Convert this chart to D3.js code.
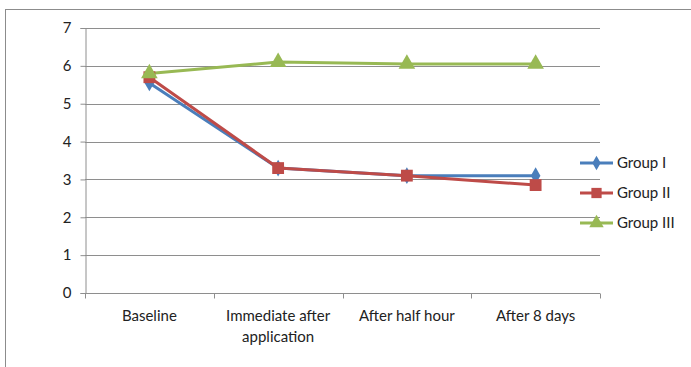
<!DOCTYPE html>
<html>
<head>
<meta charset="utf-8">
<script src="https://cdn.jsdelivr.net/npm/d3@7"></script>
<style>
  html, body { margin: 0; padding: 0; background: #fff; }
  svg { display: block; }
  text { font-family: Lato, "Open Sans", sans-serif; fill: #222; }
</style>
</head>
<body>
<svg id="chart" width="691" height="367"></svg>
<script>
// Time points and per-group scores
const categories = [["Baseline"], ["Immediate after", "application"], ["After half hour"], ["After 8 days"]];
const groupI   = [5.55, 3.3, 3.1, 3.1];
const groupII  = [5.7, 3.3, 3.1, 2.85];
const groupIII = [5.8, 6.1, 6.05, 6.05];
const seriesNames = ["Group I", "Group II", "Group III"];
const yTicks = [0, 1, 2, 3, 4, 5, 6, 7];

const series = [
  { name: seriesNames[0], values: groupI,   color: "#4a7ebb", shape: d3.symbolDiamond,  size: 80 },
  { name: seriesNames[1], values: groupII,  color: "#be4b48", shape: d3.symbolSquare,   size: 140 },
  { name: seriesNames[2], values: groupIII, color: "#98b954", shape: d3.symbolTriangle, size: 120 }
];

const svg = d3.select("#chart");
const plotLeft = 85, plotRight = 600, plotTop = 28, plotBottom = 293;
const fontStack = "Lato, 'Open Sans', sans-serif";

// Chart frame
svg.append("rect")
  .attr("x", 5.5).attr("y", 9.5).attr("width", 700).attr("height", 400)
  .attr("fill", "none").attr("stroke", "#8c8c8c").attr("stroke-width", 1);

const x = d3.scaleBand().domain(d3.range(categories.length)).range([plotLeft, plotRight]).padding(0);
const y = d3.scaleLinear().domain([0, 7]).range([plotBottom, plotTop]);

// Horizontal gridlines
svg.append("g").selectAll("line").data(yTicks.filter(t => t > 0)).join("line")
  .attr("x1", plotLeft).attr("x2", plotRight)
  .attr("y1", d => Math.round(y(d)) + 0.5).attr("y2", d => Math.round(y(d)) + 0.5)
  .attr("stroke", "#8e8e8e").attr("stroke-width", 1);

// Y axis
const yAxis = svg.append("g").attr("transform", `translate(${plotLeft + 0.5},0)`)
  .call(d3.axisLeft(y).tickValues(yTicks).tickSize(5).tickPadding(9).tickFormat(d3.format("d")));
yAxis.select(".domain").attr("stroke", "#8e8e8e");
yAxis.selectAll(".tick line").attr("stroke", "#8e8e8e");
yAxis.selectAll(".tick text").attr("font-size", 15).attr("fill", "#222")
  .style("font-family", fontStack);

// X axis with ticks between categories
const xAxisG = svg.append("g").attr("transform", `translate(0,${Math.round(y(0)) + 0.5})`);
xAxisG.append("line").attr("x1", plotLeft).attr("x2", plotRight).attr("stroke", "#8e8e8e");
const boundaries = d3.range(categories.length + 1).map(i => i < categories.length ? x(i) : x(categories.length - 1) + x.bandwidth());
xAxisG.selectAll("line.tk").data(boundaries).join("line").attr("class", "tk")
  .attr("x1", d => Math.round(d) + 0.5).attr("x2", d => Math.round(d) + 0.5)
  .attr("y1", 0).attr("y2", 5).attr("stroke", "#8e8e8e");

const labels = svg.append("g").selectAll("text").data(categories).join("text")
  .attr("x", (d, i) => x(i) + x.bandwidth() / 2)
  .attr("y", 321)
  .attr("text-anchor", "middle")
  .attr("font-size", 15);
labels.selectAll("tspan").data(d => d).join("tspan")
  .attr("x", function() { return d3.select(this.parentNode).attr("x"); })
  .attr("dy", (d, i) => i === 0 ? 0 : 21)
  .text(d => d);

// Lines and markers
const cx = i => x(i) + x.bandwidth() / 2;
const line = d3.line().x((d, i) => cx(i)).y(d => y(d));

series.forEach(s => {
  svg.append("path").datum(s.values)
    .attr("d", line).attr("fill", "none")
    .attr("stroke", s.color).attr("stroke-width", 3).attr("stroke-linejoin", "round");
});
series.forEach(s => {
  svg.append("g").selectAll("path").data(s.values).join("path")
    .attr("transform", (d, i) => `translate(${cx(i)},${y(d)})`)
    .attr("d", d3.symbol().type(s.shape).size(s.size))
    .attr("fill", s.color);
});

// Legend
const legend = svg.append("g");
series.forEach((s, i) => {
  const ly = 163 + i * 30;
  legend.append("line").attr("x1", 580).attr("x2", 613).attr("y1", ly).attr("y2", ly)
    .attr("stroke", s.color).attr("stroke-width", 3);
  legend.append("path").attr("transform", `translate(596.5,${ly})`)
    .attr("d", d3.symbol().type(s.shape).size(s.size * 0.75)).attr("fill", s.color);
  legend.append("text").attr("x", 617).attr("y", ly + 5).attr("font-size", 15).text(s.name);
});
</script>
</body>
</html>
